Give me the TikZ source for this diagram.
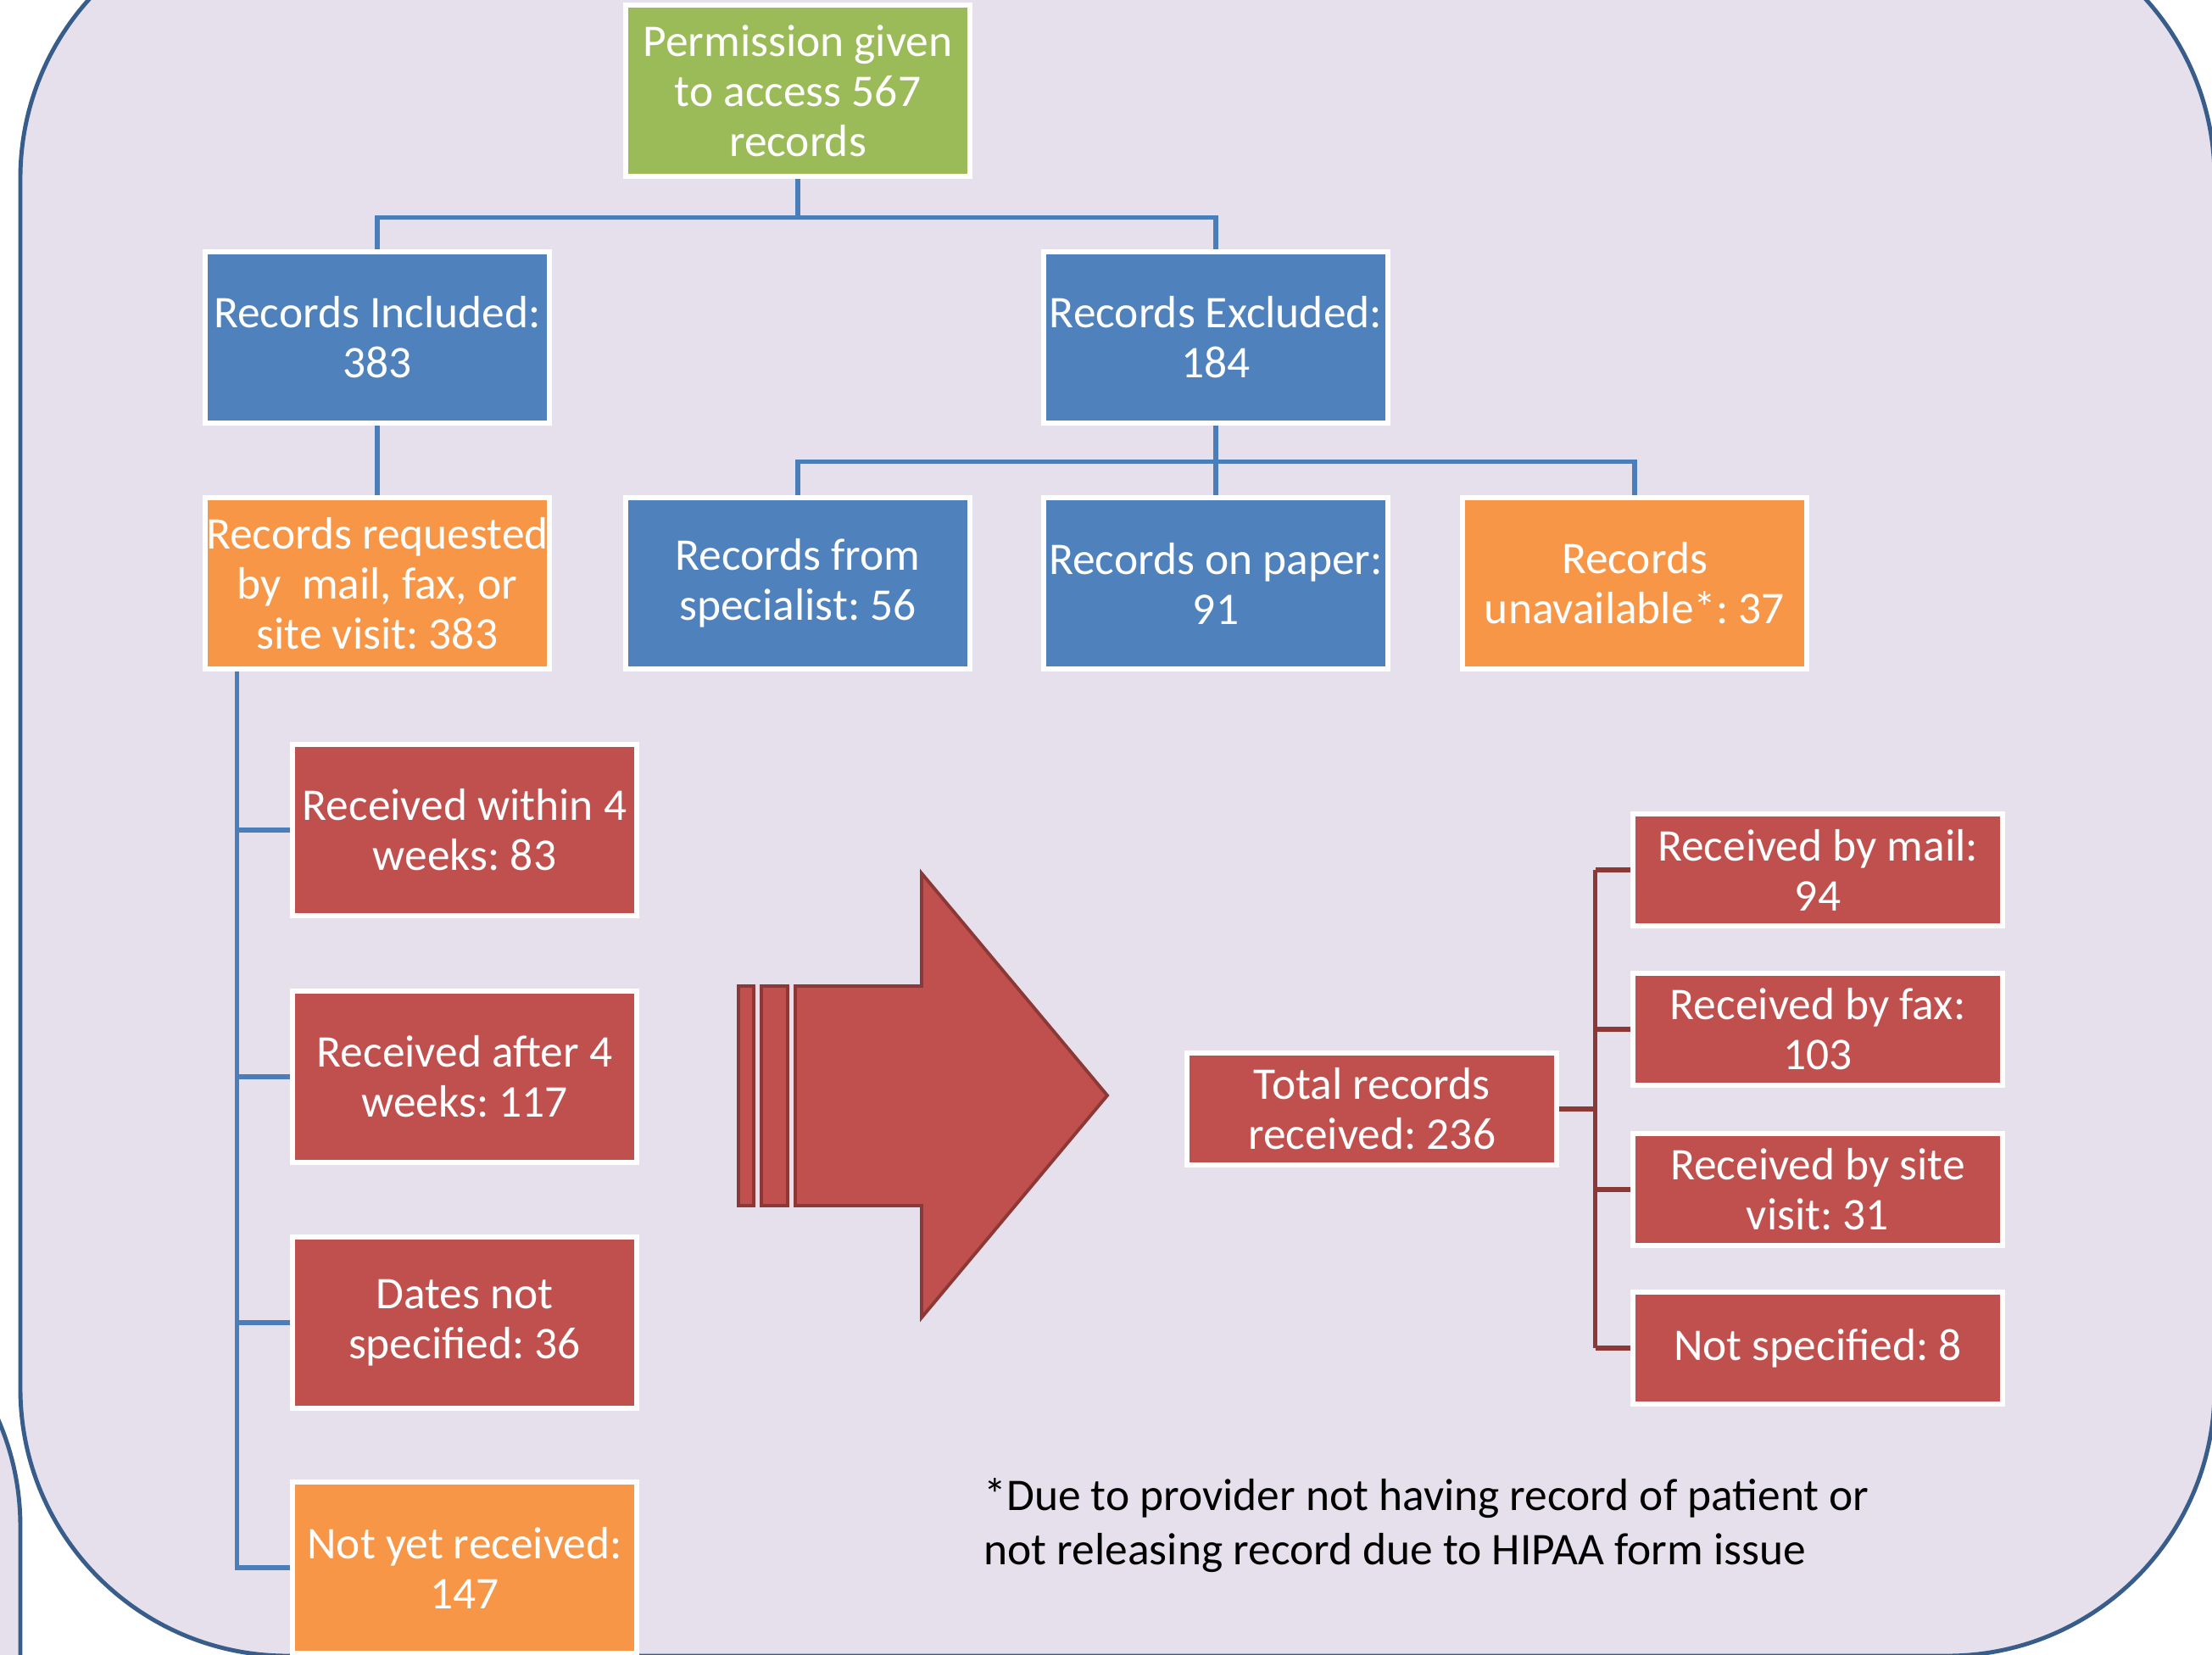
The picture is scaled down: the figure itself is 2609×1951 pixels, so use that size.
\documentclass[tikz,border=0pt]{standalone}
\usepackage{fontspec}
\setmainfont{Carlito}
\usepackage{xcolor}
\usepackage{tikz}
\frenchspacing

\definecolor{lavender}{HTML}{E5E0EC}
\definecolor{framebl}{HTML}{385D8A}
\definecolor{permgreen}{HTML}{9BBB59}
\definecolor{recblue}{HTML}{4F81BD}
\definecolor{recorange}{HTML}{F79646}
\definecolor{recred}{HTML}{C0504D}
\definecolor{lineblue}{HTML}{4A7EBB}
\definecolor{linered}{HTML}{8C3836}

\tikzset{
    flowbox/.style={rectangle, draw=white, line width=1.7pt, text=white, align=center,
        minimum width=4.05cm, minimum height=2.01cm, inner sep=0pt,
        font=\fontsize{15.2}{16.8}\selectfont},
    greenbox/.style={flowbox, fill=permgreen},
    bluebox/.style={flowbox, fill=recblue},
    orangebox/.style={flowbox, fill=recorange},
    redbox/.style={flowbox, fill=recred},
    widebox/.style={redbox, minimum width=4.35cm, minimum height=1.31cm},
    blueline/.style={draw=lineblue, line width=1.6pt},
    redline/.style={draw=linered, line width=1.6pt},
    frame/.style={fill=lavender, draw=framebl, line width=1.4pt, rounded corners=3.15cm},
}

\begin{document}
\begin{tikzpicture}[x=0.01cm, y=-0.01cm]
    % page size and clipping
    \useasboundingbox (0,0) rectangle (2609,1951);
    \clip (0,0) rectangle (2609,1951);
    \fill[white] (0,0) rectangle (2609,1951);

    % rounded background frames
    \filldraw[frame] (-800,1485) rectangle (24,2600);
    \filldraw[frame] (24,-105) rectangle (2612,1953);

    % top of the tree
    \node[greenbox] (perm) at (941,107) {Permission given\\to access 567\\records};
    \node[bluebox] (incl) at (445,398) {Records Included:\\383};
    \node[bluebox] (excl) at (1434,398) {Records Excluded:\\184};

    % second row
    \node[orangebox] (req) at (445,688) {Records requested\\by\ \ mail, fax, or\\site visit: 383};
    \node[bluebox] (spec) at (941,688) {Records from\\specialist: 56};
    \node[bluebox] (paper) at (1434,688) {Records on paper:\\91};
    \node[orangebox] (unav) at (1928,688) {Records\\unavailable*: 37};

    % left column
    \node[redbox] (within) at (548,979) {Received within 4\\weeks: 83};
    \node[redbox] (after) at (548,1270) {Received after 4\\weeks: 117};
    \node[redbox] (nodate) at (548,1560) {Dates not\\specified: 36};
    \node[orangebox] (notyet) at (548,1849) {Not yet received:\\147};

    % right group
    \node[widebox] (total) at (1618,1308) {Total records\\received: 236};
    \node[widebox] (mail) at (2144,1026) {Received by mail:\\94};
    \node[widebox] (fax) at (2144,1214) {Received by fax:\\103};
    \node[widebox] (site) at (2144,1403) {Received by site\\visit: 31};
    \node[widebox] (unspec) at (2144,1590) {Not specified: 8};

    % blue tree connectors
    \draw[blueline] (perm.south) -- ++(0,46) coordinate (topsplit) -| (incl.north);
    \draw[blueline] (topsplit) -| (excl.north);
    \draw[blueline] (incl.south) -- (req.north);
    \draw[blueline] (excl.south) -- ++(0,43) coordinate (exsplit) -| (spec.north);
    \draw[blueline] (exsplit) -| (unav.north);
    \draw[blueline] (excl.south) -- (paper.north);

    % left spine
    \coordinate (spine) at ([xshift=0.40cm]req.south west);
    \draw[blueline] (spine) |- (notyet.west);
    \foreach \n in {within,after,nodate}
        \draw[blueline] (spine |- \n.west) -- (\n.west);

    % right spine
    \draw[redline] (total.east) -- ++(43,0) coordinate (rspine);
    \draw[redline] (rspine |- mail.west) -- (rspine |- unspec.west);
    \foreach \n in {mail,fax,site,unspec}
        \draw[redline] (rspine |- \n.west) -- (\n.west);

    % striped arrow
    \begin{scope}[fill=recred, draw=linered, line width=1.1pt]
        \filldraw (871,1163) rectangle (889,1422);
        \filldraw (898,1163) rectangle (929,1422);
        \filldraw (938,1163) -- (1087,1163) -- (1087,1030) -- (1306,1292)
            -- (1087,1554) -- (1087,1422) -- (938,1422) -- cycle;
    \end{scope}

    % footnote
    \node[anchor=west, align=left, inner sep=0pt, font=\fontsize{15.2}{18.2}\selectfont] (note) at (1160,1799)
        {*Due to provider not having record of patient or\\not releasing record due to HIPAA form issue};
\end{tikzpicture}
\end{document}
